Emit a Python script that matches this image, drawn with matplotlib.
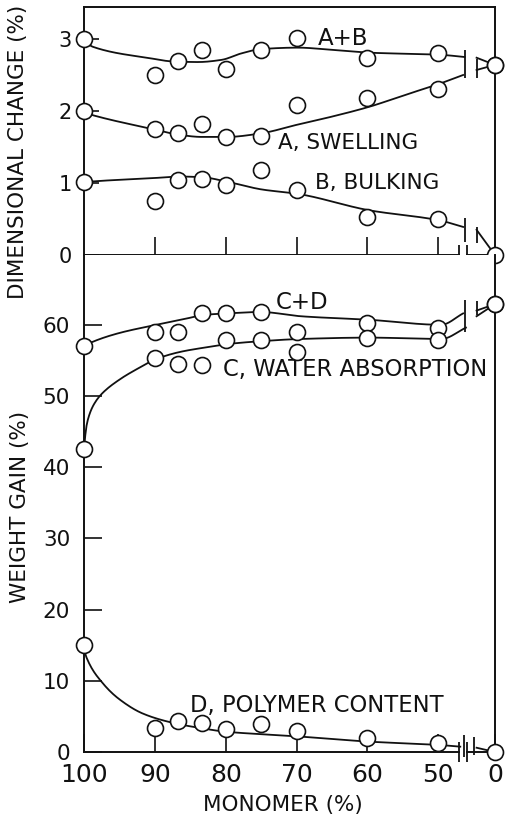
import numpy as np
import matplotlib
matplotlib.use("Agg")
import matplotlib.pyplot as plt

plt.rcParams['font.family'] = ['DejaVu Sans']

# ---------------------------------------------------------------- data
# monomer content of each specimen (%)
monomer = [100, 90, 86.7, 83.3, 80, 75, 70, 60, 50, 0]

# dimensional change (%)
swelling_plus_bulking = [3.00, 2.50, 2.69, 2.85, 2.59, 2.85, 3.02, 2.73, 2.81, 2.64]
swelling = [2.00, 1.75, 1.69, 1.82, 1.64, 1.65, 2.09, 2.18, 2.30, 2.64]
bulking = [1.02, 0.75, 1.04, 1.06, 0.97, 1.18, 0.90, 0.53, 0.50, 0.00]

# weight gain (%)
water_plus_polymer = [57.0, 59.0, 59.0, 61.6, 61.6, 61.8, 59.0, 60.2, 59.6, 62.9]
water_absorption = [42.5, 55.4, 54.5, 54.4, 57.9, 57.9, 56.2, 58.1, 57.9, 62.9]
polymer_content = [15.0, 3.4, 4.3, 4.1, 3.2, 3.9, 2.9, 1.9, 1.2, 0.0]

# hand-faired trend curves: (monomer %, value) up to the axis break
ab_fit_m = [100, 98.7, 90.5, 87.7, 83.9, 80.6, 77.8, 75, 69.8, 65.1, 59.7, 49.6, 46.3]
ab_fit_v = [2.97, 2.89, 2.73, 2.69, 2.68, 2.71, 2.80, 2.86, 2.88, 2.85, 2.81, 2.78, 2.75]
a_fit_m = [100, 98.7, 89.9, 86.6, 83.4, 79.8, 75, 69.9, 65.1, 59.7, 54.8, 49.8, 46.5]
a_fit_v = [1.98, 1.94, 1.74, 1.67, 1.64, 1.64, 1.69, 1.81, 1.92, 2.06, 2.22, 2.38, 2.50]
b_fit_m = [100, 99, 89.9, 86.6, 83.3, 79.9, 74.9, 69.9, 59.7, 49.8, 46.5]
b_fit_v = [1.01, 1.02, 1.07, 1.09, 1.08, 1.02, 0.91, 0.85, 0.62, 0.48, 0.39]

cd_fit_m = [100, 98.8, 95.2, 89.8, 86.3, 82.9, 79.9, 75.1, 69.4, 59.7, 49.6, 46.5]
cd_fit_v = [57.0, 57.6, 58.8, 60.0, 60.7, 61.4, 61.6, 61.8, 61.2, 60.7, 60.0, 61.6]
c_fit_m = [100, 99.7, 99.2, 98.5, 97.5, 95, 92.5, 89.8, 86.4, 83, 79.7, 75, 69.7, 59.7, 49.6, 46.1]
c_fit_v = [42.5, 45.5, 47.5, 49.0, 50.3, 52.3, 53.8, 55.2, 56.2, 56.8, 57.3, 57.7, 58.0, 58.2, 58.0, 59.6]
d_fit_m = [100, 99.7, 97.3, 95, 91.7, 87.9, 83.2, 80, 75, 70, 59.7, 49.8, 46.9]
d_fit_v = [14.5, 13.4, 9.6, 7.4, 5.4, 4.2, 3.3, 2.85, 2.5, 2.2, 1.45, 0.98, 0.75]

# values where each curve resumes after the axis break
ab_tail_v, a_tail_v, b_tail_v = 2.74, 2.57, 0.35
cd_tail_v, c_tail_v, d_tail_v = 62.0, 61.2, 0.6

x_tick_labels = ['100', '90', '80', '70', '60', '50', '0']

# ---------------------------------------------------------------- helpers
ZERO_POS = 58.0        # horizontal slot of the 0 % specimen beyond the break
BREAK_L, BREAK_R = 53.8, 55.4
AXIS_BRK_L, AXIS_BRK_R = 52.9, 54.1


def pos(m):
    m = np.asarray(m, float)
    return np.where(m > 0, 100.0 - m, ZERO_POS)


def pchip(x, y, xs):
    x = np.asarray(x, float)
    y = np.asarray(y, float)
    h = np.diff(x)
    d = np.diff(y) / h
    s = np.zeros_like(y)
    s[0], s[-1] = d[0], d[-1]
    for k in range(1, len(x) - 1):
        if d[k - 1] * d[k] > 0:
            w1 = 2 * h[k] + h[k - 1]
            w2 = h[k] + 2 * h[k - 1]
            s[k] = (w1 + w2) / (w1 / d[k - 1] + w2 / d[k])
    i = np.clip(np.searchsorted(x, xs) - 1, 0, len(h) - 1)
    t = (xs - x[i]) / h[i]
    return ((2 * t**3 - 3 * t**2 + 1) * y[i] + (t**3 - 2 * t**2 + t) * h[i] * s[i]
            + (-2 * t**3 + 3 * t**2) * y[i + 1] + (t**3 - t**2) * h[i] * s[i + 1])


INK = '#111111'
LW = 1.3


def faired(ax, fm, fv, tail_v, end_v):
    u = pos(fm)
    xs = np.linspace(u[0], u[-1], 300)
    ax.plot(xs, pchip(u, fv, xs), color=INK, lw=LW, zorder=2, clip_on=False)
    ax.plot([BREAK_R, ZERO_POS], [tail_v, end_v], color=INK, lw=LW,
            zorder=2, clip_on=False)


def points(ax, vals):
    ax.plot(pos(monomer), vals, 'o', ms=11.5, mfc='white', mec=INK, mew=1.2,
            ls='none', zorder=4, clip_on=False)


def bars(ax, xs, v, length_px):
    for x, L in zip(xs, length_px):
        ax.plot([x], [v], ls='none', marker='|', ms=L * 0.72, mew=1.3,
                color=INK, zorder=3, clip_on=False)


# ---------------------------------------------------------------- figure
fig = plt.figure(figsize=(5.05, 8.16), dpi=100)
L0, R0 = 84 / 505, 495 / 505
ax_top = fig.add_axes([L0, 1 - 255 / 816, R0 - L0, (255 - 7) / 816])
ax_bot = fig.add_axes([L0, 1 - 752 / 816, R0 - L0, (752 - 255) / 816])

for ax in (ax_top, ax_bot):
    ax.set_xlim(0, ZERO_POS)
    for sp in ax.spines.values():
        sp.set_linewidth(1.4)
        sp.set_color(INK)
ax_top.spines['bottom'].set_visible(False)
ax_bot.spines['top'].set_visible(False)
ax_bot.spines['bottom'].set_visible(False)

ax_top.set_ylim(0, 248 / 72)
ax_bot.set_ylim(0, 497 / 7.12)

# base lines with break symbols
for ax in (ax_top, ax_bot):
    ax.plot([0, AXIS_BRK_L], [0, 0], color=INK, lw=1.4, clip_on=False, zorder=2)
    ax.plot([AXIS_BRK_R, ZERO_POS], [0, 0], color=INK, lw=1.4, clip_on=False, zorder=2)
    bars(ax, [AXIS_BRK_L, AXIS_BRK_R], 0, [20, 20])

# ---- dimensional change
faired(ax_top, ab_fit_m, ab_fit_v, ab_tail_v, swelling_plus_bulking[-1])
faired(ax_top, a_fit_m, a_fit_v, a_tail_v, swelling[-1])
faired(ax_top, b_fit_m, b_fit_v, b_tail_v, bulking[-1])
bars(ax_top, [BREAK_L], 2.65, [28])
bars(ax_top, [BREAK_R], 2.60, [19])
bars(ax_top, [BREAK_L], 0.35, [24])
bars(ax_top, [BREAK_R], 0.28, [16])
points(ax_top, swelling_plus_bulking)
points(ax_top, swelling)
points(ax_top, bulking)

# ---- weight gain
faired(ax_bot, cd_fit_m, cd_fit_v, cd_tail_v, water_plus_polymer[-1])
faired(ax_bot, c_fit_m, c_fit_v, c_tail_v, water_absorption[-1])
faired(ax_bot, d_fit_m, d_fit_v, d_tail_v, polymer_content[-1])
bars(ax_bot, [BREAK_L], 61.2, [32])
bars(ax_bot, [BREAK_R], 62.3, [14])
bars(ax_bot, [BREAK_L - 0.2, BREAK_R - 0.4], 0.9, [22, 18])
points(ax_bot, water_plus_polymer)
points(ax_bot, water_absorption)
points(ax_bot, polymer_content)

# ---- ticks
ax_top.set_xticks([10, 20, 30, 40, 50])
ax_top.tick_params(axis='x', direction='in', length=13, width=1.2,
                   color=INK, labelbottom=False)
ax_top.set_yticks([0, 1, 2, 3])
ax_top.set_yticklabels(['0', '1', '2', '3'])
ax_top.tick_params(axis='y', direction='in', length=11, width=1.2, color=INK,
                   labelsize=15, pad=9, labelcolor=INK)

ax_bot.set_xticks([0, 10, 20, 30, 40, 50, ZERO_POS])
ax_bot.set_xticklabels(x_tick_labels)
ax_bot.tick_params(axis='x', direction='in', length=13, width=1.2, color=INK,
                   labelsize=18, pad=8, labelcolor=INK)
ax_bot.set_yticks([0, 10, 20, 30, 40, 50, 60])
ax_bot.tick_params(axis='y', direction='in', length=13, width=1.2, color=INK,
                   labelsize=15.5, pad=10, labelcolor=INK)

# ---- labels
fs = 15.5
fig.text(18 / 505, 1 - 152 / 816, 'DIMENSIONAL CHANGE (%)', rotation=90,
         ha='center', va='center', fontsize=fs, color=INK)
fig.text(20 / 505, 1 - 507 / 816, 'WEIGHT GAIN (%)', rotation=90,
         ha='center', va='center', fontsize=fs, color=INK)
fig.text(283 / 505, 1 - 805 / 816, 'MONOMER (%)', ha='center', va='center',
         fontsize=fs, color=INK)

ax_top.text(33.0, 3.01, 'A+B', ha='left', va='center', fontsize=16.5, color=INK)
ax_top.text(27.4, 1.56, 'A, SWELLING', ha='left', va='center', fontsize=15.5, color=INK)
ax_top.text(32.6, 1.00, 'B, BULKING', ha='left', va='center', fontsize=15.5, color=INK)
ax_bot.text(27.0, 63.1, 'C+D', ha='left', va='center', fontsize=16.5, color=INK)
ax_bot.text(19.6, 53.7, 'C, WATER ABSORPTION', ha='left', va='center',
            fontsize=16.3, color=INK)
ax_bot.text(15.0, 6.6, 'D, POLYMER CONTENT', ha='left', va='center',
            fontsize=16.3, color=INK)

fig.savefig('out.png', dpi=100, facecolor='white')
